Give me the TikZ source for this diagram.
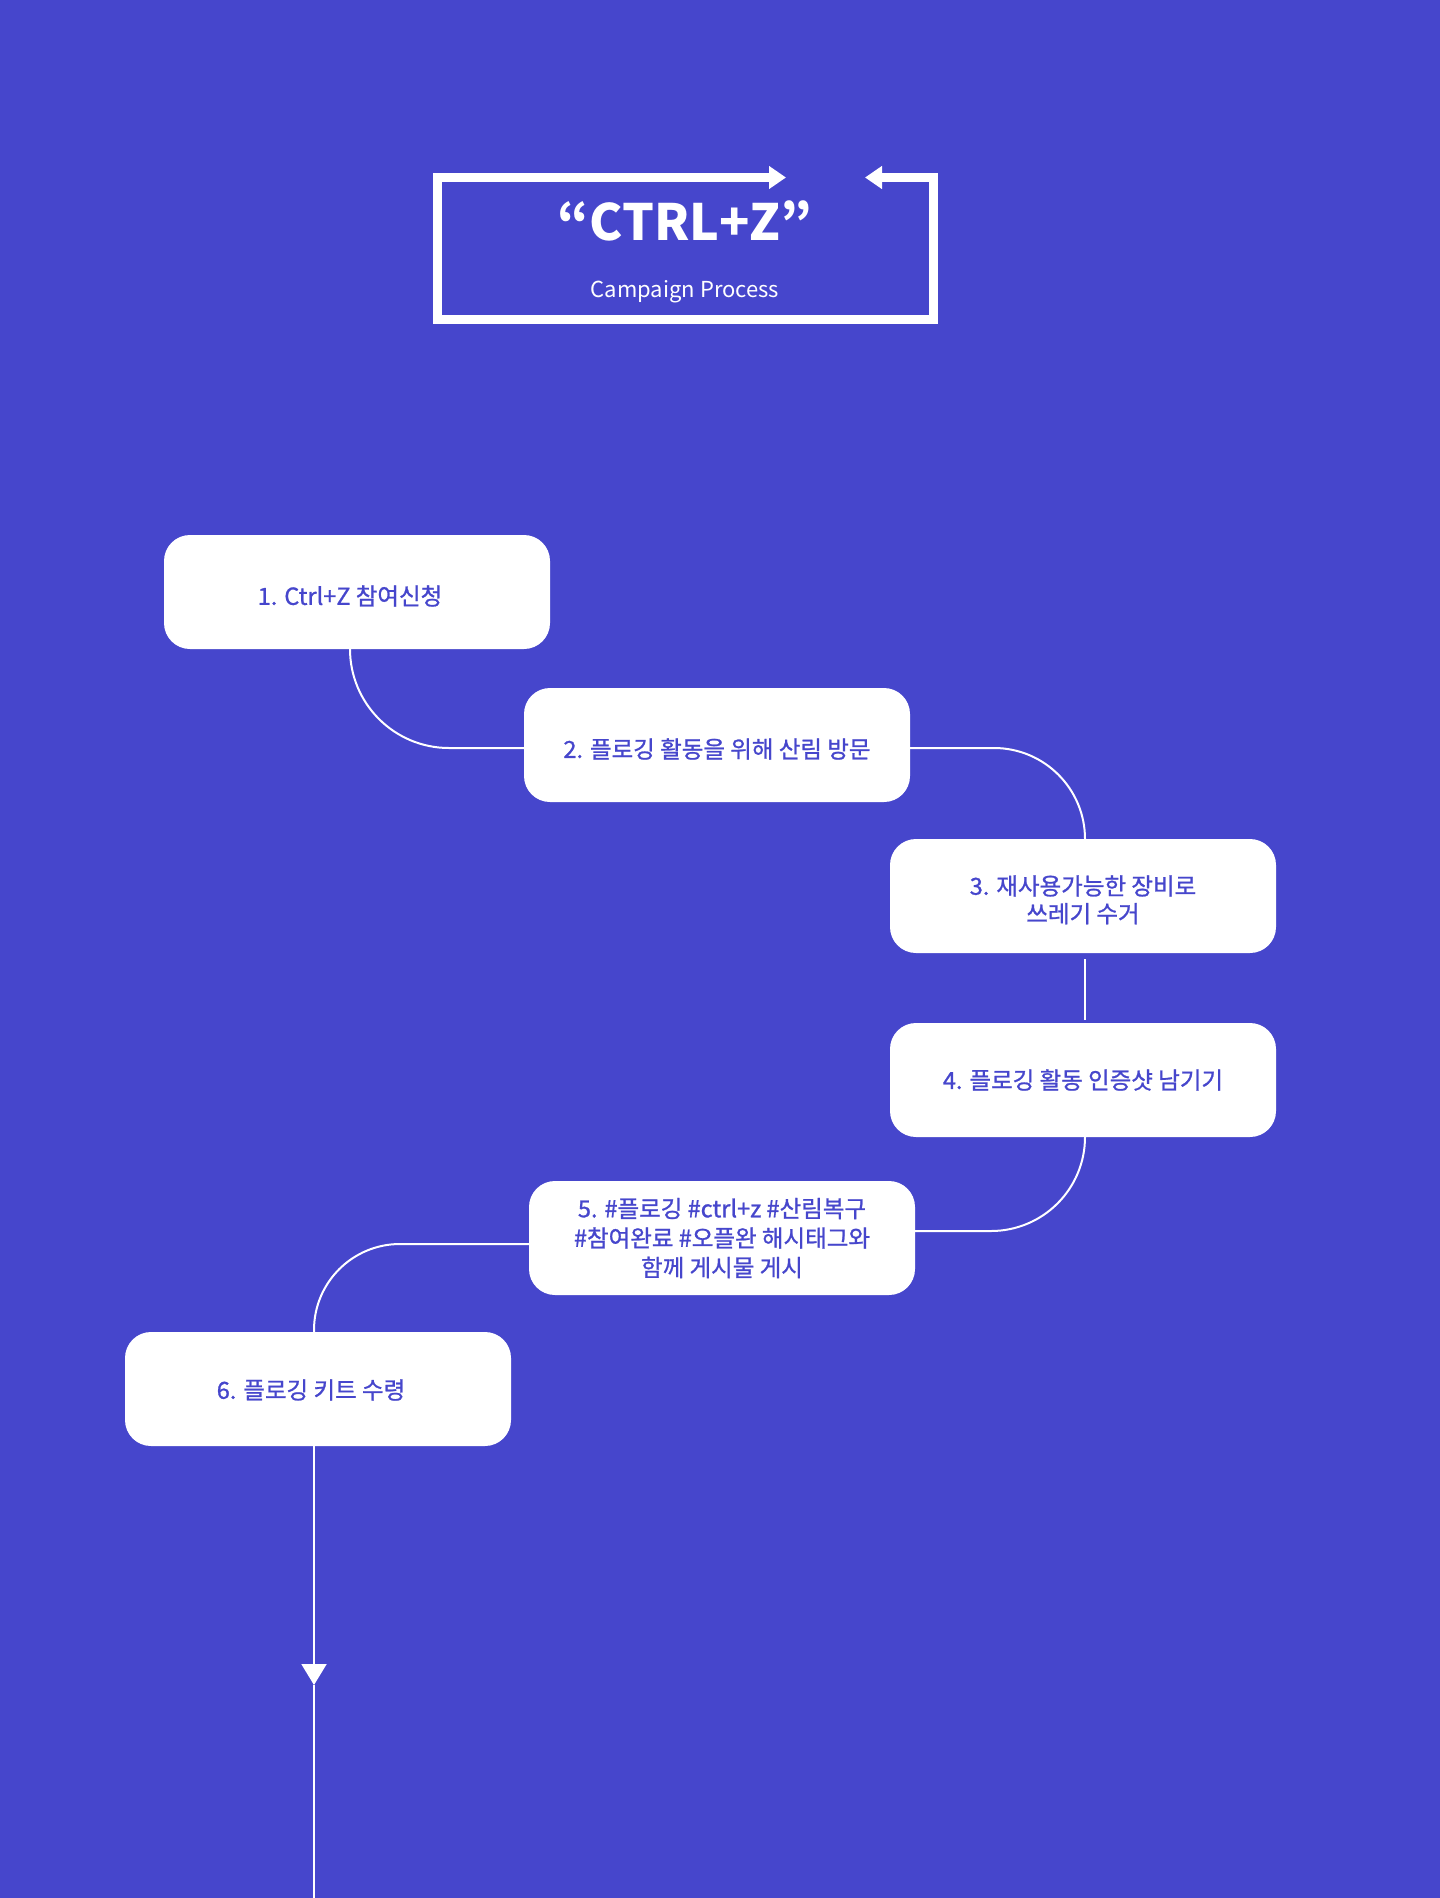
\documentclass[tikz,border=0pt]{standalone}
\usepackage{fontspec}
\setmainfont{Noto Sans CJK KR}
\newfontfamily\boxfont[FakeBold=1]{Noto Sans CJK KR}
\usetikzlibrary{arrows.meta}
\definecolor{bg}{RGB}{70,70,204}
\newcommand{\lowertext}[2]{\raisebox{-#1}[\height][\depth]{#2}}
\begin{document}
\begin{tikzpicture}[x=1pt,y=-1pt,
  stepbox/.style={fill=white, rounded corners=26pt, minimum width=386pt, minimum height=114pt,
    inner sep=0pt, text=bg, align=center, font=\boxfont\fontsize{23.5}{29.5}\selectfont},
  conn/.style={draw=white, line width=2pt},
]
\fill[bg] (0,0) rectangle (1440,1898);
\useasboundingbox (0,0) rectangle (1440,1898);

% title frame
\coordinate (fs) at (865,177.5);
\coordinate (fa) at (933,177.5);
\coordinate (fb) at (933,319.5);
\coordinate (fc) at (437,319.5);
\coordinate (fd) at (437,177.5);
\coordinate (fe) at (786,177.5);
\draw[white, line width=9pt, line join=miter,
  {Triangle[length=17pt,width=22pt]}-{Triangle[length=17pt,width=22pt]}]
  (fs) -- (fa) -- (fb) -- (fc) -- (fd) -- (fe);
\node[anchor=base, text=white, font=\fontsize{50}{60}\selectfont\bfseries] (title) at (685,240) {“CTRL+Z”};
\node[anchor=base, text=white, font=\fontsize{22}{28}\selectfont] (sub) at (685,297) {Campaign Process};

% boxes
\node[stepbox] (b1) at (357,592) {\lowertext{4pt}{1. Ctrl+Z 참여신청}\hspace*{14pt}};
\node[stepbox] (b2) at (717,745) {\lowertext{4pt}{2. 플로깅 활동을 위해 산림 방문}};
\node[stepbox] (b3) at (1083,896) {\lowertext{7pt}{\fontsize{23.5}{27.5}\selectfont\begin{tabular}{@{}c@{}}3. 재사용가능한 장비로\\쓰레기 수거\end{tabular}}};
\node[stepbox] (b4) at (1083,1080) {4. 플로깅 활동 인증샷 남기기};
\node[stepbox] (b5) at (722,1238) {5. \#플로깅 \#ctrl+z \#산림복구\\\#참여완료 \#오플완 해시태그와\\함께 게시물 게시};
\node[stepbox] (b6) at (318,1389) {\lowertext{1pt}{6. 플로깅 키트 수령}\hspace*{14pt}};

% connectors
\draw[conn, rounded corners=99pt] ([xshift=-7pt]b1.south) |- ([yshift=-3pt]b2.west);
\draw[conn, rounded corners=91pt] ([yshift=-3pt]b2.east) -| ([xshift=2pt]b3.north);
\draw[conn, shorten <=6pt, shorten >=3pt] ([xshift=2pt]b3.south) -- ([xshift=2pt]b4.north);
\draw[conn, rounded corners=94pt] ([xshift=2pt]b4.south) |- ([yshift=7pt]b5.east);
\draw[conn, rounded corners=86pt] ([yshift=-6pt]b5.west) -| ([xshift=-4pt]b6.north);
\coordinate (tip) at (314,1685);
\coordinate (bottom) at (314,1898);
\draw[conn, -{Triangle[length=21pt,width=25pt]}] ([xshift=-4pt]b6.south) -- (tip);
\draw[conn] (tip) -- (bottom);
\end{tikzpicture}
\end{document}
